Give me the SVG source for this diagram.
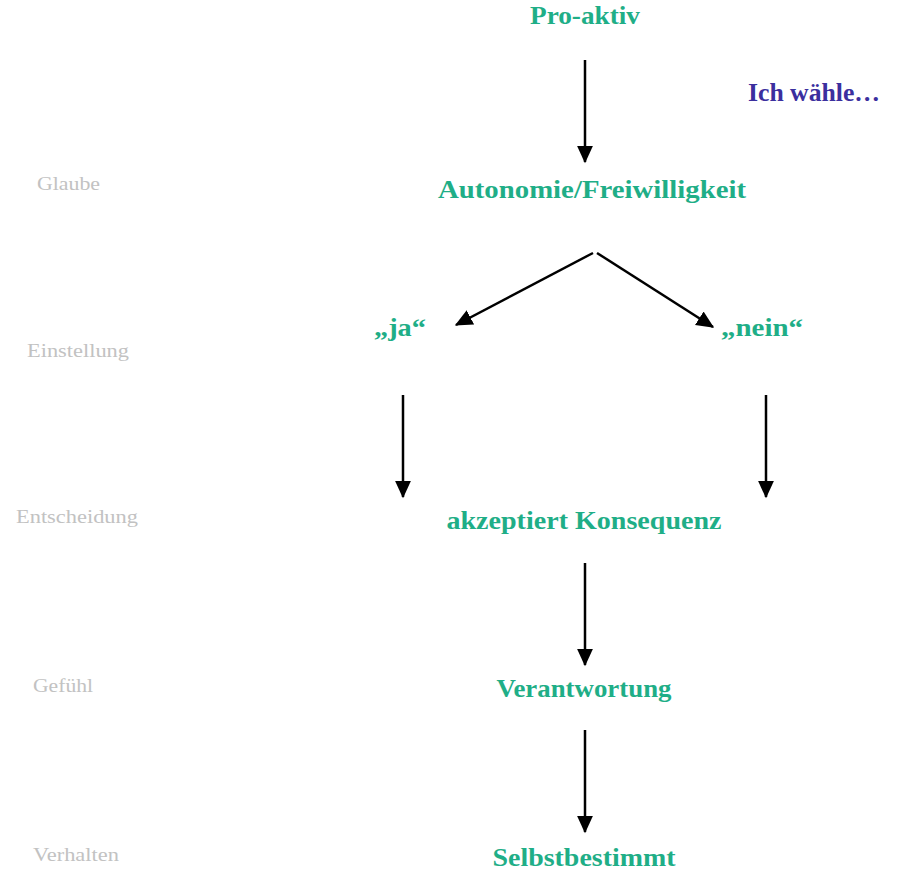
<svg xmlns="http://www.w3.org/2000/svg" width="907" height="871" viewBox="0 0 907 871">
<style>
.n{font-family:"Liberation Serif","DejaVu Serif",serif;font-weight:bold;font-size:26px;fill:#1fae87;text-anchor:middle}
.lab{font-family:"Liberation Serif","DejaVu Serif",serif;font-size:19px;fill:#c2c2c2}
.c line{stroke:#000;stroke-width:2.5}
</style>
<defs>
<marker id="ah" markerWidth="8" markerHeight="8" refX="6.5" refY="3.5" orient="auto" markerUnits="strokeWidth"><path d="M0,0.3 L7,3.5 L0,6.7 z" fill="#000"/></marker>
</defs>
<rect width="907" height="871" fill="#fff"/>
<g id="labels">
<text class="lab" x="37" y="190" textLength="63" lengthAdjust="spacingAndGlyphs">Glaube</text>
<text class="lab" x="27" y="357" textLength="102" lengthAdjust="spacingAndGlyphs">Einstellung</text>
<text class="lab" x="16" y="523" textLength="122" lengthAdjust="spacingAndGlyphs">Entscheidung</text>
<text class="lab" x="33" y="692" textLength="60" lengthAdjust="spacingAndGlyphs">Gefühl</text>
<text class="lab" x="33" y="861" textLength="86" lengthAdjust="spacingAndGlyphs">Verhalten</text>
</g>
<g id="n-proaktiv"><text class="n" x="585" y="24" textLength="110" lengthAdjust="spacingAndGlyphs">Pro-aktiv</text></g>
<g id="n-ichwaehle"><text class="n" x="814" y="101" style="fill:#3b2f9e" textLength="132" lengthAdjust="spacingAndGlyphs">Ich wähle…</text></g>
<g id="n-autonomie"><text class="n" x="592" y="198" textLength="308" lengthAdjust="spacingAndGlyphs">Autonomie/Freiwilligkeit</text></g>
<g id="n-ja"><text class="n" x="400" y="336" textLength="52" lengthAdjust="spacingAndGlyphs">„ja“</text></g>
<g id="n-nein"><text class="n" x="762" y="336" textLength="82" lengthAdjust="spacingAndGlyphs">„nein“</text></g>
<g id="n-akzeptiert"><text class="n" x="584" y="529" textLength="275" lengthAdjust="spacingAndGlyphs">akzeptiert Konsequenz</text></g>
<g id="n-verantwortung"><text class="n" x="584" y="697" textLength="175" lengthAdjust="spacingAndGlyphs">Verantwortung</text></g>
<g id="n-selbst"><text class="n" x="584" y="866" textLength="183" lengthAdjust="spacingAndGlyphs">Selbstbestimmt</text></g>
<g class="c" id="connectors">
<line x1="585" y1="60" x2="585" y2="162" marker-end="url(#ah)"/>
<line x1="593" y1="253" x2="456" y2="325" marker-end="url(#ah)"/>
<line x1="597" y1="253" x2="713" y2="327" marker-end="url(#ah)"/>
<line x1="403" y1="395" x2="403" y2="497" marker-end="url(#ah)"/>
<line x1="766" y1="395" x2="766" y2="497" marker-end="url(#ah)"/>
<line x1="585" y1="563" x2="585" y2="665" marker-end="url(#ah)"/>
<line x1="585" y1="730" x2="585" y2="832" marker-end="url(#ah)"/>
</g>
</svg>
